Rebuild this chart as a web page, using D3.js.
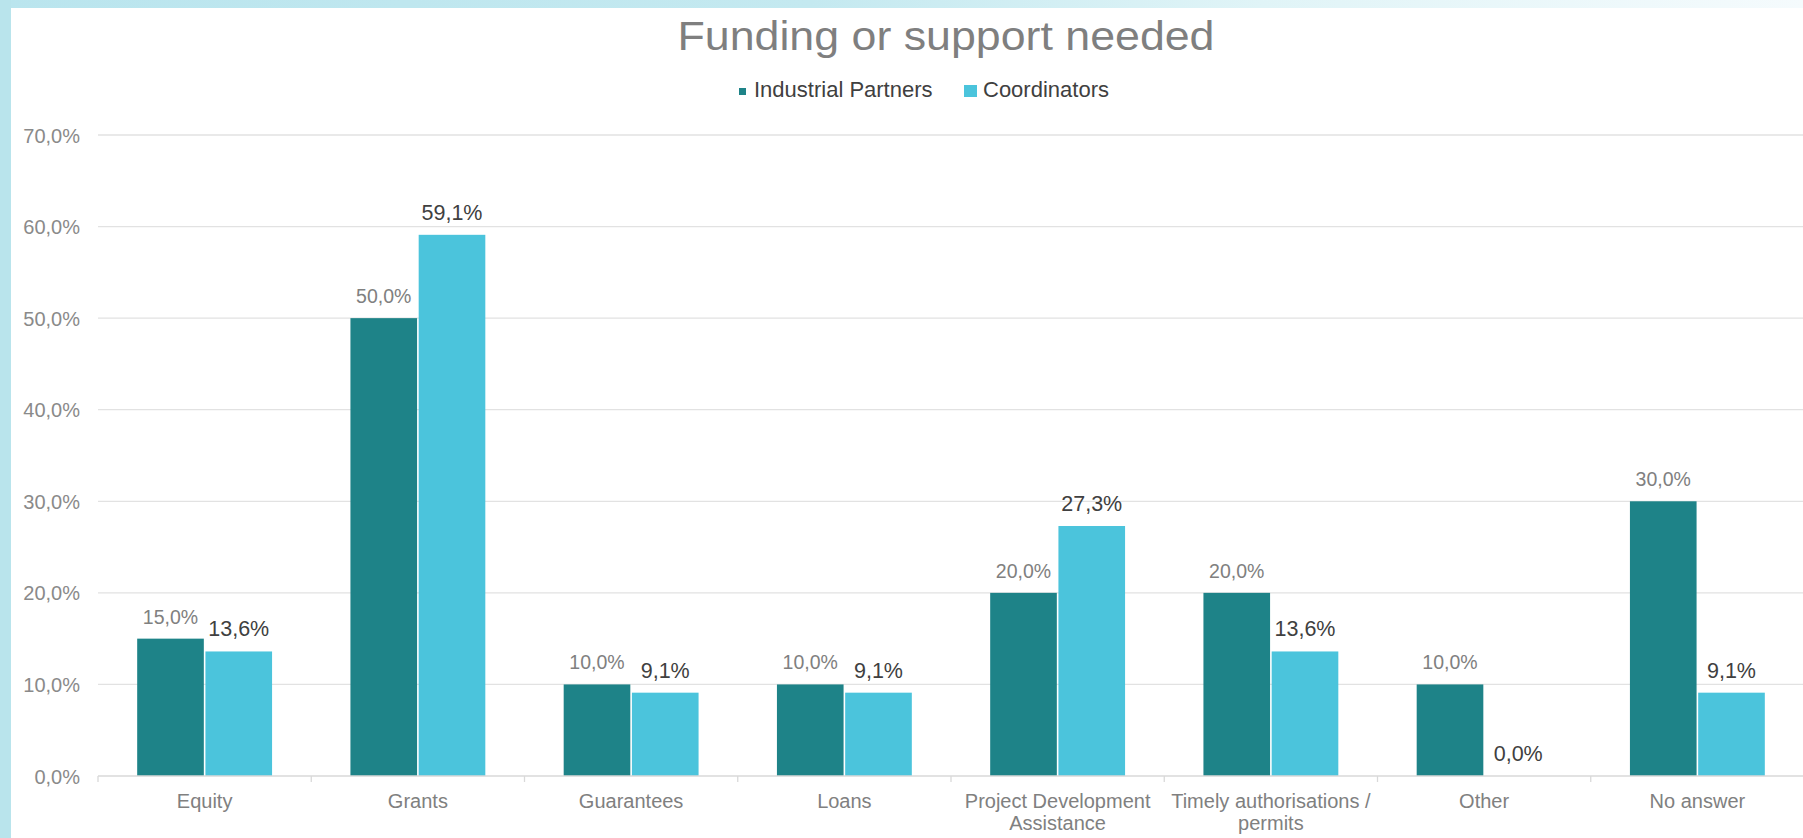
<!DOCTYPE html>
<html>
<head>
<meta charset="utf-8">
<script src="https://cdn.jsdelivr.net/npm/d3@7"></script>
<style>
  html, body { margin: 0; padding: 0; background: #fff; }
  svg { display: block; }
  text { font-family: "Liberation Sans", Arial, sans-serif; }
</style>
</head>
<body>
<svg id="chart" width="1803" height="838"></svg>
<script>
const chartTitle = "Funding or support needed";
const categories = ["Equity", "Grants", "Guarantees", "Loans", "Project Development Assistance", "Timely authorisations / permits", "Other", "No answer"];
const categoryLines = [["Equity"], ["Grants"], ["Guarantees"], ["Loans"], ["Project Development", "Assistance"], ["Timely authorisations /", "permits"], ["Other"], ["No answer"]];
const seriesNames = ["Industrial Partners", "Coordinators"];
const industrialPartners = [15.0, 50.0, 10.0, 10.0, 20.0, 20.0, 10.0, 30.0];
const coordinators = [13.6, 59.1, 9.1, 9.1, 27.3, 13.6, 0.0, 9.1];
const yTicks = [0, 10, 20, 30, 40, 50, 60, 70];

const W = 1803, H = 838;
const svg = d3.select("#chart");

// background frame
const defs = svg.append("defs");
const grad = defs.append("linearGradient").attr("id", "topg").attr("x1", "0").attr("x2", "1").attr("y1", "0").attr("y2", "0");
[[0, "#bae5ee"], [0.45, "#c4e9f0"], [0.7, "#e0f4f7"], [1, "#f5fbfd"]].forEach(([o, c]) =>
  grad.append("stop").attr("offset", o).attr("stop-color", c));
svg.append("rect").attr("x", 0).attr("y", 0).attr("width", W).attr("height", H).attr("fill", "#ffffff");
svg.append("rect").attr("x", 0).attr("y", 0).attr("width", W).attr("height", 8).attr("fill", "url(#topg)");
svg.append("rect").attr("x", 0).attr("y", 0).attr("width", 11).attr("height", H).attr("fill", "#b9e4ec");

const plot = { left: 98, right: 1804, top: 135, bottom: 776 };

const x0 = d3.scaleBand().domain(categories).range([plot.left, plot.right]).paddingInner(0).paddingOuter(0);
const bw = x0.bandwidth();
const pad = bw * 0.18;
const x1 = d3.scaleBand().domain(seriesNames).range([pad, bw - pad]).padding(0);
const y = d3.scaleLinear().domain([0, 70]).range([plot.bottom, plot.top]);

const colors = { "Industrial Partners": "#1e8388", "Coordinators": "#4bc4dc" };
const fmt = v => v.toFixed(1).replace(".", ",") + "%";

// gridlines
svg.append("g").selectAll("line").data(yTicks.filter(t => t > 0)).join("line")
  .attr("x1", plot.left).attr("x2", W)
  .attr("y1", d => y(d)).attr("y2", d => y(d))
  .attr("stroke", "#e2e2e2").attr("stroke-width", 1.3);

// y axis labels
const yAxis = d3.axisLeft(y).tickValues(yTicks).tickFormat(fmt).tickSize(0).tickPadding(0);
const ya = svg.append("g").attr("transform", `translate(80,0)`).call(yAxis);
ya.select(".domain").remove();
ya.selectAll("text").attr("fill", "#8a8a8a").attr("font-size", 20).attr("dy", "0.35em");

// bars
const rows = categories.map((c, i) => ({ cat: c, vals: [
  { s: seriesNames[0], v: industrialPartners[i] },
  { s: seriesNames[1], v: coordinators[i] }
]}));

const grp = svg.append("g").selectAll("g").data(rows).join("g")
  .attr("transform", d => `translate(${x0(d.cat)},0)`);

grp.selectAll("rect").data(d => d.vals).join("rect")
  .attr("x", d => x1(d.s) + 0.8)
  .attr("width", x1.bandwidth() - 1.6)
  .attr("y", d => y(d.v))
  .attr("height", d => y(0) - y(d.v))
  .attr("fill", d => colors[d.s]);

grp.selectAll("text").data(d => d.vals).join("text")
  .attr("x", d => x1(d.s) + x1.bandwidth() / 2)
  .attr("y", d => y(d.v) - 15)
  .attr("text-anchor", "middle")
  .attr("font-size", d => d.s === seriesNames[0] ? 19.5 : 21.5)
  .attr("fill", d => d.s === seriesNames[0] ? "#808080" : "#404040")
  .text(d => fmt(d.v));

// x axis
const xa = svg.append("g").attr("transform", `translate(0,${plot.bottom})`);
xa.append("line").attr("x1", plot.left).attr("x2", W).attr("y1", 0).attr("y2", 0)
  .attr("stroke", "#d9d9d9").attr("stroke-width", 1.3);
const bounds = categories.map(c => x0(c));
xa.selectAll("line.tk").data(bounds).join("line").attr("class", "tk")
  .attr("x1", d => d).attr("x2", d => d).attr("y1", 0).attr("y2", 6)
  .attr("stroke", "#d9d9d9").attr("stroke-width", 1.3);
const lab = xa.selectAll("text.cat").data(categories).join("text").attr("class", "cat")
  .attr("x", d => x0(d) + bw / 2)
  .attr("y", 32)
  .attr("text-anchor", "middle")
  .attr("font-size", 20)
  .attr("fill", "#808080");
lab.each(function(d, i) {
  const t = d3.select(this);
  categoryLines[i].forEach((ln, j) => {
    t.append("tspan").attr("x", x0(d) + bw / 2).attr("dy", j === 0 ? 0 : 22).text(ln);
  });
});

// title
svg.append("text").attr("x", 946).attr("y", 50).attr("text-anchor", "middle")
  .attr("font-size", 40).attr("textLength", 537).attr("lengthAdjust", "spacingAndGlyphs")
  .attr("fill", "#7f7f7f").text(chartTitle);

// legend
const legend = svg.append("g");
legend.append("rect").attr("x", 739).attr("y", 88).attr("width", 7).attr("height", 7).attr("fill", colors[seriesNames[0]]);
legend.append("text").attr("x", 754).attr("y", 97).attr("font-size", 22).attr("fill", "#404040").text(seriesNames[0]);
legend.append("rect").attr("x", 964).attr("y", 85).attr("width", 13).attr("height", 12).attr("fill", colors[seriesNames[1]]);
legend.append("text").attr("x", 983).attr("y", 97).attr("font-size", 22).attr("fill", "#404040").text(seriesNames[1]);
</script>
</body>
</html>
